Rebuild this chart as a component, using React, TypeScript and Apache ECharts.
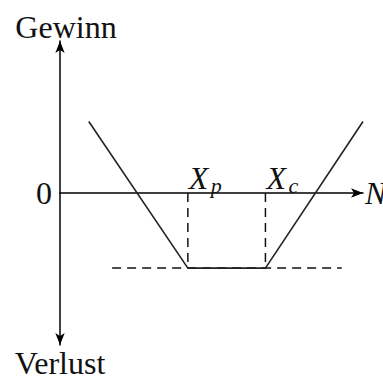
import React, { useEffect, useRef } from "react";
import * as echarts from "echarts";

// Data
const payoffX = [0.95, 4.22, 6.78, 10];
const payoffY = [2.35, -2.47, -2.47, 2.35];
const strikeX = [4.22, 6.78];
const strikeMain = ["X", "X"];
const strikeSub = ["p", "c"];
const floorY = -2.47;
const floorDashX = [1.72, 9.3];
const yLabelShown = [0];
const xName = "N";
const yTopName = "Gewinn";
const yBottomName = "Verlust";

const FONT = "'Liberation Serif', 'Times New Roman', serif";
const INK = "#111";
const FS = 32;

export default function App() {
  const ref = useRef<HTMLDivElement>(null);
  useEffect(() => {
    if (!ref.current) return;
    const chart = echarts.init(ref.current, undefined, { renderer: "svg" });
    const dashStyle = { color: INK, width: 1.5, type: [9, 6] as any };
    const labelSeries = (texts: string[], size: number, pos: number[]) => ({
      type: "scatter",
      symbolSize: 0,
      silent: true,
      z: 5,
      itemStyle: { color: INK, opacity: 1 },
      data: strikeX.map((x, i) => ({ value: [x, 0], name: texts[i] })),
      label: {
        show: true,
        position: pos,
        align: "left",
        verticalAlign: "bottom",
        color: INK,
        opacity: 1,
        fontFamily: FONT,
        fontSize: size,
        fontStyle: "italic",
        textBorderWidth: 0,
        formatter: (p: any) => p.name,
      },
    });
    const option: any = {
      animation: false,
      backgroundColor: "#fff",
      grid: { left: 60, right: 20, top: 41, bottom: 33, containLabel: false, outerBoundsMode: "none" },
      xAxis: {
        type: "value",
        min: 0,
        max: 10,
        name: xName,
        nameLocation: "end",
        nameGap: 2,
        nameTextStyle: { fontFamily: FONT, fontSize: FS, fontStyle: "italic", color: INK, verticalAlign: "middle" },
        axisLine: {
          onZero: true,
          onZeroAxisIndex: 0,
          symbol: ["none", "arrow"],
          symbolSize: [7, 12],
          lineStyle: { color: "#000", width: 1.5 },
        },
        axisTick: { show: false },
        axisLabel: { show: false },
        splitLine: { show: false },
      },
      yAxis: [
        {
          type: "value",
          min: -5,
          max: 5,
          interval: 5,
          name: yTopName,
          nameLocation: "end",
          nameGap: -2,
          nameTextStyle: { fontFamily: FONT, fontSize: FS, color: INK, padding: [0, 0, 0, 12] },
          axisLine: {
            show: true,
            symbol: ["arrow", "arrow"],
            symbolSize: [7, 12],
            lineStyle: { color: "#000", width: 1.5 },
          },
          axisTick: { show: false },
          axisLabel: {
            margin: 8,
            fontFamily: FONT,
            fontSize: FS,
            color: INK,
            formatter: (v: number) => (yLabelShown.includes(v) ? String(v) : ""),
          },
          splitLine: { show: false },
        },
        {
          type: "value",
          min: -5,
          max: 5,
          position: "left",
          name: yBottomName,
          nameLocation: "start",
          nameGap: 8,
          nameTextStyle: { fontFamily: FONT, fontSize: FS, color: INK, lineHeight: 20 },
          axisLine: { show: false },
          axisTick: { show: false },
          axisLabel: { show: false },
          splitLine: { show: false },
        },
      ],
      series: [
        {
          type: "line",
          data: floorDashX.map((x) => [x, floorY]),
          symbol: "none",
          lineStyle: dashStyle,
          silent: true,
        },
        ...strikeX.map((x) => ({
          type: "line",
          data: [
            [x, 0],
            [x, floorY],
          ],
          symbol: "none",
          lineStyle: dashStyle,
          silent: true,
        })),
        {
          type: "line",
          data: payoffX.map((x, i) => [x, payoffY[i]]),
          symbol: "none",
          clip: false,
          lineStyle: { color: "#222", width: 1.6 },
          silent: true,
        },
        labelSeries(strikeMain, FS, [1, 1]),
        labelSeries(strikeSub, 22, [23, 3]),
      ],
    };
    chart.setOption(option);
    return () => chart.dispose();
  }, []);
  return (
    <div
      ref={ref}
      style={{ position: "fixed", left: 0, top: 0, width: 383, height: 378, background: "#fff" }}
    />
  );
}
